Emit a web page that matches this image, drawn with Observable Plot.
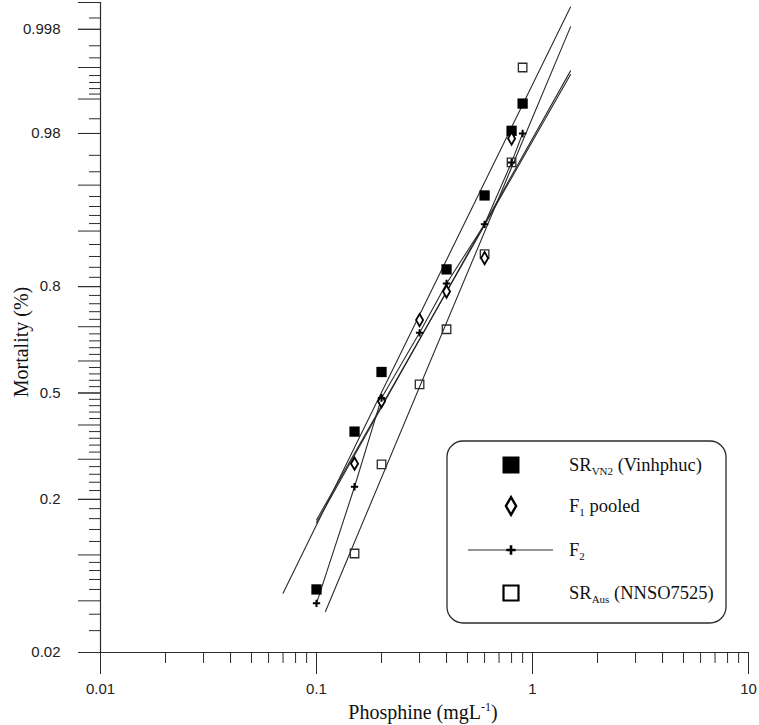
<!DOCTYPE html>
<html><head><meta charset="utf-8">
<script src="https://cdn.jsdelivr.net/npm/d3@7"></script>
<script src="https://cdn.jsdelivr.net/npm/@observablehq/plot@0.6"></script>
<style>body{margin:0;background:#fff}#chart{width:759px;height:725px}</style>
</head><body><div id="chart"></div>
<script>
// ---- observed data (dose mg/L, proportion dead) ----
const doseVN2 = [0.1, 0.15, 0.2, 0.4, 0.6, 0.8, 0.9];
const mortVN2 = [0.060, 0.380, 0.566, 0.836, 0.941, 0.981, 0.989];
const doseF1 = [0.15, 0.2, 0.3, 0.4, 0.6, 0.8];
const mortF1 = [0.288, 0.474, 0.718, 0.789, 0.857, 0.978];
const doseF2 = [0.1, 0.15, 0.2, 0.3, 0.4, 0.6, 0.8, 0.9];
const mortF2 = [0.048, 0.229, 0.484, 0.683, 0.807, 0.909, 0.966, 0.980];
const doseAus = [0.15, 0.2, 0.3, 0.4, 0.6, 0.8, 0.9];
const mortAus = [0.102, 0.286, 0.527, 0.693, 0.864, 0.966, 0.995];
// ---- fitted probit lines (end points) ----
const fitDoseVN2 = [0.07, 1.5], fitMortVN2 = [0.0566, 0.99887];
const fitDoseF1 = [0.1, 1.5], fitMortF1 = [0.1575, 0.99413];
const fitDoseF2 = [0.1, 1.5], fitMortF2 = [0.152, 0.9946];
const fitDoseAus = [0.11, 1.5], fitMortAus = [0.0419, 0.99812];
// ---- axis ticks ----
const yLabelTicks = [0.02, 0.2, 0.5, 0.8, 0.98, 0.998];
const yLabelText = ["0.02", "0.2", "0.5", "0.8", "0.98", "0.998"];
const yMajorTicks = [0.02, 0.05, 0.1, 0.2, 0.3, 0.4, 0.5, 0.6, 0.7, 0.8, 0.9, 0.95, 0.98, 0.99, 0.995, 0.998, 0.999];
const yMinorTicks = [0.03, 0.04, 0.06, 0.07, 0.08, 0.09, 0.12, 0.14, 0.16, 0.18,
  0.22, 0.24, 0.26, 0.28, 0.32, 0.34, 0.36, 0.38, 0.42, 0.44, 0.46, 0.48,
  0.52, 0.54, 0.56, 0.58, 0.62, 0.64, 0.66, 0.68, 0.72, 0.74, 0.76, 0.78,
  0.82, 0.84, 0.86, 0.88, 0.91, 0.92, 0.93, 0.94, 0.96, 0.97, 0.985,
  0.991, 0.992, 0.993, 0.994, 0.996, 0.997, 0.9985];
const xMajorTicks = [0.01, 0.1, 1, 10];
const xMajorText = ["0.01", "0.1", "1", "10"];
const xMinorTicks = [0.02, 0.03, 0.04, 0.05, 0.06, 0.07, 0.08, 0.09, 0.2, 0.3, 0.4, 0.5, 0.6, 0.7, 0.8, 0.9, 2, 3, 4, 5, 6, 7, 8, 9];
const legendMain = ["SR", "F", "F", "SR"];
const legendSub = ["VN2", "1", "2", "Aus"];
const legendRest = [" (Vinhphuc)", " pooled", "", " (NNSO7525)"];

// inverse standard normal CDF (probit axis transform)
function probit(p) {
  const a=[-3.969683028665376e+01,2.209460984245205e+02,-2.759285104469687e+02,1.383577518672690e+02,-3.066479806614716e+01,2.506628277459239e+00];
  const b=[-5.447609879822406e+01,1.615858368580409e+02,-1.556989798598866e+02,6.680131188771972e+01,-1.328068155288572e+01];
  const c=[-7.784894002430293e-03,-3.223964580411365e-01,-2.400758277161838e+00,-2.549732539343734e+00,4.374664141464968e+00,2.938163982698783e+00];
  const d=[7.784695709041462e-03,3.224671290700398e-01,2.445134137142996e+00,3.754408661907416e+00];
  const pl = 0.02425, ph = 1 - pl; let q, r;
  if (p < pl) { q = Math.sqrt(-2*Math.log(p)); return (((((c[0]*q+c[1])*q+c[2])*q+c[3])*q+c[4])*q+c[5])/((((d[0]*q+d[1])*q+d[2])*q+d[3])*q+1); }
  if (p <= ph) { q = p - 0.5; r = q*q; return (((((a[0]*r+a[1])*r+a[2])*r+a[3])*r+a[4])*r+a[5])*q/(((((b[0]*r+b[1])*r+b[2])*r+b[3])*r+b[4])*r+1); }
  q = Math.sqrt(-2*Math.log(1-p)); return -(((((c[0]*q+c[1])*q+c[2])*q+c[3])*q+c[4])*q+c[5])/((((d[0]*q+d[1])*q+d[2])*q+d[3])*q+1);
}
const rows = (xs, ps) => xs.map((x, i) => ({x, z: probit(ps[i])}));

const ink = "#2b2b2b";
const plot = Plot.plot({
  width: 759, height: 725,
  marginLeft: 100, marginRight: 11, marginTop: 2, marginBottom: 73,
  style: {fontFamily: "'Liberation Sans', Arial, sans-serif", fontSize: "15px", color: "#222", background: "#fff", overflow: "visible"},
  x: {type: "log", domain: [0.01, 10]},
  y: {type: "linear", domain: [probit(0.02), probit(0.999)]},
  marks: [
    Plot.axisY(yMinorTicks.map(probit), {tickSize: 11, text: null, label: null, stroke: ink}),
    Plot.axisY(yMajorTicks.map(probit), {tickSize: 22, text: null, label: null, stroke: ink}),
    Plot.axisY(yLabelTicks.map(probit), {tickSize: 22, tickPadding: 18, label: null, stroke: ink,
      tickFormat: z => yLabelText[yLabelTicks.findIndex(v => Math.abs(probit(v) - z) < 1e-9)]}),
    Plot.axisX(xMinorTicks, {tickSize: 11, text: null, label: null, stroke: ink}),
    Plot.axisX(xMajorTicks, {tickSize: 22, text: null, label: null, stroke: ink}),
    Plot.axisX(xMajorTicks, {tickSize: 22, tickPadding: 9, label: null, stroke: ink,
      tickFormat: v => xMajorText[xMajorTicks.indexOf(v)]}),
    Plot.ruleX([0.01], {stroke: ink, strokeWidth: 1.2}),
    Plot.ruleY([probit(0.02)], {stroke: ink, strokeWidth: 1.2}),
    Plot.line(rows(fitDoseVN2, fitMortVN2), {x: "x", y: "z", stroke: ink, strokeWidth: 1.1}),
    Plot.line(rows(fitDoseF1, fitMortF1), {x: "x", y: "z", stroke: ink, strokeWidth: 1.1}),
    Plot.line(rows(fitDoseF2, fitMortF2), {x: "x", y: "z", stroke: ink, strokeWidth: 1.1}),
    Plot.line(rows(fitDoseAus, fitMortAus), {x: "x", y: "z", stroke: ink, strokeWidth: 1.1}),
    Plot.line(rows(doseF2, mortF2), {x: "x", y: "z", stroke: ink, strokeWidth: 1.1}),
    Plot.dot(rows(doseVN2, mortVN2), {x: "x", y: "z", symbol: "square", fill: "#000", stroke: "none", r: 5.8}),
    Plot.dot(rows(doseAus, mortAus), {x: "x", y: "z", symbol: "square", fill: "none", stroke: ink, strokeWidth: 1.3, r: 4.8}),
    Plot.dot(rows(doseF1, mortF1), {x: "x", y: "z", symbol: "diamond", fill: "#fff", stroke: "#000", strokeWidth: 1.8, r: 3.7}),
    Plot.dot(rows(doseF2, mortF2), {x: "x", y: "z", symbol: "plus", stroke: "#000", strokeWidth: 2, r: 2.5})
  ]
});
document.getElementById("chart").appendChild(plot);

const svg = d3.select(plot);
const serif = "'Liberation Serif', 'Times New Roman', serif";
// axis titles
svg.append("text").attr("transform", "translate(28,342) rotate(-90)").attr("text-anchor", "middle")
  .style("font-family", serif).style("font-size", "20px").attr("fill", "#111").text("Mortality (%)");
const xt = svg.append("text").attr("x", 423).attr("y", 719).attr("text-anchor", "middle")
  .style("font-family", serif).style("font-size", "20px").attr("fill", "#111");
xt.append("tspan").text("Phosphine (mgL");
xt.append("tspan").attr("dy", -8).style("font-size", "12px").text("-1");
xt.append("tspan").attr("dy", 8).text(")");

// legend box
const lg = svg.append("g").attr("text-anchor", "start");
lg.append("rect").attr("x", 447).attr("y", 441).attr("width", 279).attr("height", 182).attr("rx", 16)
  .attr("fill", "#fff").attr("stroke", ink).attr("stroke-width", 1.3);
const rowY = [465, 506, 550, 593], mx = 511;
lg.append("path").attr("d", d3.symbol(d3.symbolSquare, 17 * 17)()).attr("transform", `translate(${mx},${rowY[0]})`).attr("fill", "#000");
lg.append("path").attr("d", d3.symbol(d3.symbolDiamond, 90)()).attr("transform", `translate(${mx},${rowY[1]})`).attr("fill", "#fff").attr("stroke", "#000").attr("stroke-width", 2.4);
lg.append("line").attr("x1", 468).attr("x2", 553).attr("y1", rowY[2]).attr("y2", rowY[2]).attr("stroke", ink).attr("stroke-width", 1.2);
lg.append("path").attr("d", d3.symbol(d3.symbolPlus, 30)()).attr("transform", `translate(${mx},${rowY[2]})`).attr("fill", "none").attr("stroke", "#000").attr("stroke-width", 2.6);
lg.append("path").attr("d", d3.symbol(d3.symbolSquare, 15 * 15)()).attr("transform", `translate(${mx},${rowY[3]})`).attr("fill", "none").attr("stroke", "#000").attr("stroke-width", 2.2);
legendMain.forEach((m, i) => {
  const t = lg.append("text").attr("x", 569).attr("y", rowY[i] + 6).attr("text-anchor", "start")
    .style("font-family", serif).style("font-size", "18.5px").attr("fill", "#111");
  t.append("tspan").text(m);
  t.append("tspan").attr("dy", 4).style("font-size", "11px").text(legendSub[i]);
  t.append("tspan").attr("dy", -4).text(legendRest[i]);
});
</script></body></html>
